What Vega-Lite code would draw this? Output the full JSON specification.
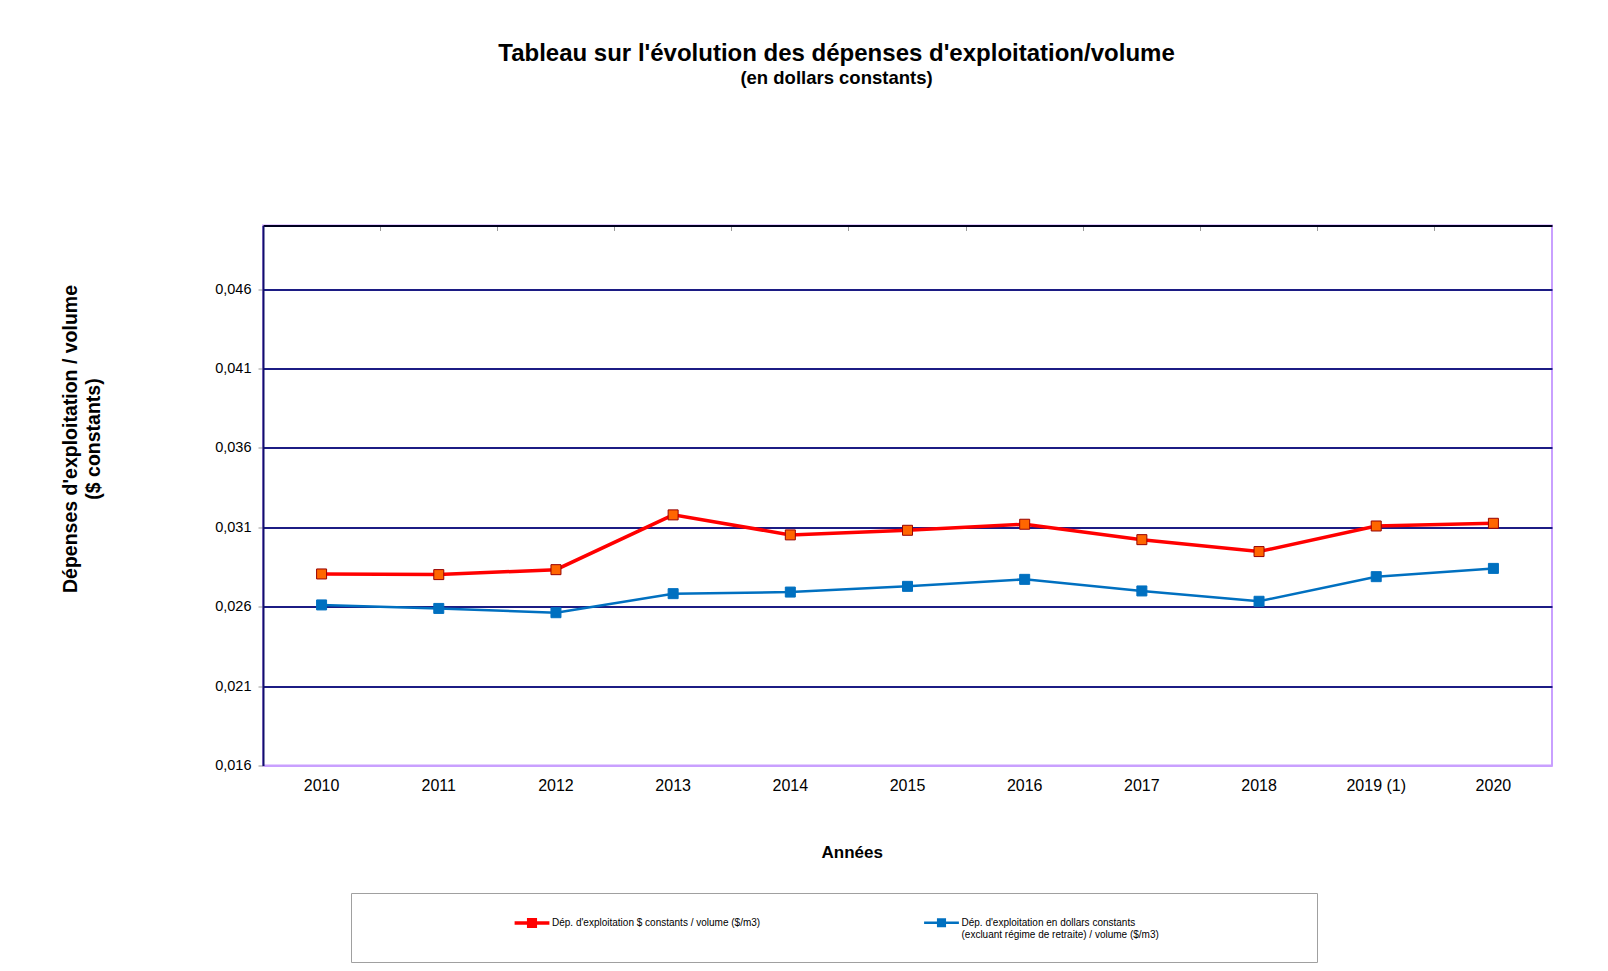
{
  "$schema": "https://vega.github.io/schema/vega-lite/v6.json",
  "autosize": {"type": "none"},
  "width": 1289,
  "height": 540,
  "padding": {"left": 263, "top": 225.5, "right": 56, "bottom": 205},
  "background": "white",
  "config": {
    "font": "Liberation Sans",
    "view": {"stroke": "#c9a0ff", "strokeWidth": 2}
  },
  "title": {
    "text": "Tableau sur l'évolution des dépenses d'exploitation/volume",
    "subtitle": "(en dollars constants)",
    "anchor": "middle",
    "frame": "group",
    "dx": -71,
    "offset": 138,
    "fontSize": 24,
    "fontWeight": "bold",
    "color": "#000000",
    "subtitleFontSize": 18.5,
    "subtitleFontWeight": "bold",
    "subtitleColor": "#000000",
    "subtitlePadding": 3
  },
  "data": {
    "values": [
      {"annee": "2010", "serie": "Dép. d'exploitation $ constants / volume ($/m3)", "valeur": 0.02806},
      {"annee": "2011", "serie": "Dép. d'exploitation $ constants / volume ($/m3)", "valeur": 0.02802},
      {"annee": "2012", "serie": "Dép. d'exploitation $ constants / volume ($/m3)", "valeur": 0.02833},
      {"annee": "2013", "serie": "Dép. d'exploitation $ constants / volume ($/m3)", "valeur": 0.03178},
      {"annee": "2014", "serie": "Dép. d'exploitation $ constants / volume ($/m3)", "valeur": 0.03052},
      {"annee": "2015", "serie": "Dép. d'exploitation $ constants / volume ($/m3)", "valeur": 0.03081},
      {"annee": "2016", "serie": "Dép. d'exploitation $ constants / volume ($/m3)", "valeur": 0.03119},
      {"annee": "2017", "serie": "Dép. d'exploitation $ constants / volume ($/m3)", "valeur": 0.03022},
      {"annee": "2018", "serie": "Dép. d'exploitation $ constants / volume ($/m3)", "valeur": 0.02947},
      {"annee": "2019 (1)", "serie": "Dép. d'exploitation $ constants / volume ($/m3)", "valeur": 0.03108},
      {"annee": "2020", "serie": "Dép. d'exploitation $ constants / volume ($/m3)", "valeur": 0.03125},
      {"annee": "2010", "serie": "Dép. d'exploitation en dollars constants (excluant régime de retraite) / volume ($/m3)", "valeur": 0.02611},
      {"annee": "2011", "serie": "Dép. d'exploitation en dollars constants (excluant régime de retraite) / volume ($/m3)", "valeur": 0.02589},
      {"annee": "2012", "serie": "Dép. d'exploitation en dollars constants (excluant régime de retraite) / volume ($/m3)", "valeur": 0.02562},
      {"annee": "2013", "serie": "Dép. d'exploitation en dollars constants (excluant régime de retraite) / volume ($/m3)", "valeur": 0.02682},
      {"annee": "2014", "serie": "Dép. d'exploitation en dollars constants (excluant régime de retraite) / volume ($/m3)", "valeur": 0.02692},
      {"annee": "2015", "serie": "Dép. d'exploitation en dollars constants (excluant régime de retraite) / volume ($/m3)", "valeur": 0.02728},
      {"annee": "2016", "serie": "Dép. d'exploitation en dollars constants (excluant régime de retraite) / volume ($/m3)", "valeur": 0.02772},
      {"annee": "2017", "serie": "Dép. d'exploitation en dollars constants (excluant régime de retraite) / volume ($/m3)", "valeur": 0.02699},
      {"annee": "2018", "serie": "Dép. d'exploitation en dollars constants (excluant régime de retraite) / volume ($/m3)", "valeur": 0.02634},
      {"annee": "2019 (1)", "serie": "Dép. d'exploitation en dollars constants (excluant régime de retraite) / volume ($/m3)", "valeur": 0.02789},
      {"annee": "2020", "serie": "Dép. d'exploitation en dollars constants (excluant régime de retraite) / volume ($/m3)", "valeur": 0.02841}
    ]
  },
  "layer": [
    {
      "mark": {"type": "line", "strokeJoin": "miter"},
      "encoding": {
        "x": {
          "field": "annee", "type": "ordinal", "sort": null,
          "scale": {"type": "band", "paddingInner": 0, "paddingOuter": 0},
          "axis": {
            "orient": "bottom",
            "title": "Années",
            "titleFontSize": 17, "titleFontWeight": "bold", "titleColor": "#000000",
            "titleAlign": "center", "titleBaseline": "alphabetic",
            "titleX": 588.7, "titleY": 92, "titleAnchor": null,
            "labelAngle": 0, "labelFontSize": 16, "labelColor": "#000000",
            "labelBaseline": "alphabetic", "labelPadding": 25,
            "ticks": false, "tickSize": 0,
            "domainColor": "#c9a0ff", "domainWidth": 2,
            "grid": false
          }
        },
        "y": {
          "field": "valeur", "type": "quantitative",
          "scale": {"domain": [0.016, 0.05], "nice": false, "zero": false},
          "axis": {
            "title": ["Dépenses d'exploitation / volume", "($ constants)"],
            "titleFontSize": 19.5, "titleFontWeight": "bold", "titleColor": "#000000",
            "titleAngle": -90, "titleAlign": "center", "titleBaseline": "alphabetic",
            "titleLineHeight": 23.5, "titleX": -187, "titleY": 213,
            "values": [0.016, 0.021, 0.026, 0.031, 0.036, 0.041, 0.046],
            "labelExpr": "replace(format(datum.value, '.3f'), '.', ',')",
            "labelFontSize": 14.5, "labelColor": "#000000", "labelPadding": 7,
            "tickSize": 5, "tickColor": "#999999",
            "domainColor": "#10106a", "domainWidth": 2,
            "grid": true, "gridWidth": 2,
            "gridColor": {"condition": {"test": "datum.value < 0.0165", "value": "transparent"}, "value": "#1c1c84"}
          }
        },
        "color": {
          "field": "serie", "type": "nominal",
          "scale": {
            "domain": ["Dép. d'exploitation $ constants / volume ($/m3)", "Dép. d'exploitation en dollars constants (excluant régime de retraite) / volume ($/m3)"],
            "range": ["#ff0000", "#0070c0"]
          },
          "legend": {
            "orient": "none", "legendX": 88, "legendY": 667.5,
            "direction": "horizontal", "columns": 2, "columnPadding": 157.5,
            "strokeColor": "#a0a0a0", "fillColor": "white", "padding": 22,
            "title": "\u200b\u00a0\u00a0\u00a0\u00a0\u00a0\u00a0\u00a0\u00a0\u00a0\u00a0\u00a0\u00a0\u00a0\u00a0\u00a0\u00a0\u00a0\u00a0\u00a0\u00a0\u00a0\u00a0\u00a0\u00a0\u00a0\u00a0\u00a0\u00a0\u00a0\u00a0\u00a0\u00a0\u00a0\u00a0\u00a0\u00a0\u00a0\u00a0\u00a0\u00a0\u00a0\u00a0\u00a0\u00a0\u00a0\u00a0\u00a0\u00a0\u200b",
            "titleOrient": "left", "titleFontSize": 11, "titleLineHeight": 11, "titlePadding": 4,
            "symbolType": "M-2.9,0H2.9M-0.55,-0.55H0.55V0.55H-0.55Z",
            "symbolSize": 144, "symbolStrokeWidth": 3,
            "labelFontSize": 10, "labelLineHeight": 11.5, "labelColor": "#000000", "labelLimit": 600, "labelOffset": 12,
            "labelExpr": "length(datum.label) > 60 ? [\"Dép. d'exploitation en dollars constants\", \"(excluant régime de retraite) / volume ($/m3)\u00a0\u00a0\u00a0\u00a0\u00a0\u00a0\u00a0\u00a0\u00a0\u00a0\u00a0\u00a0\u00a0\u00a0\u00a0\u00a0\u00a0\u00a0\u00a0\u00a0\u00a0\u00a0\u00a0\u00a0\u00a0\u00a0\u00a0\u00a0\u00a0\u00a0\u00a0\u00a0\u00a0\u00a0\u00a0\u00a0\u00a0\u00a0\u00a0\u00a0\u00a0\u00a0\u00a0\u00a0\u00a0\u00a0\u00a0\u00a0\u00a0\u200b\"] : [datum.label, \"\u200b\"]",
            "encode": {
              "symbols": {
                "update": {
                  "fill": {"signal": "length(datum.value) > 60 ? '#0070c0' : '#ff6600'"},
                  "fillOpacity": {"value": 1}
                }
              }
            }
          }
        },
        "strokeWidth": {
          "field": "serie", "type": "nominal",
          "scale": {
            "domain": ["Dép. d'exploitation $ constants / volume ($/m3)", "Dép. d'exploitation en dollars constants (excluant régime de retraite) / volume ($/m3)"],
            "range": [3.5, 2.5]
          },
          "legend": null
        }
      }
    },
    {
      "mark": {"type": "point", "shape": "square", "filled": true, "opacity": 1, "strokeWidth": 1},
      "encoding": {
        "x": {"field": "annee", "type": "ordinal", "sort": null, "axis": null},
        "y": {"field": "valeur", "type": "quantitative"},
        "fill": {
          "field": "serie", "type": "nominal",
          "scale": {
            "domain": ["Dép. d'exploitation $ constants / volume ($/m3)", "Dép. d'exploitation en dollars constants (excluant régime de retraite) / volume ($/m3)"],
            "range": ["#ff6600", "#0070c0"]
          },
          "legend": null
        },
        "stroke": {
          "field": "serie", "type": "nominal",
          "scale": {
            "domain": ["Dép. d'exploitation $ constants / volume ($/m3)", "Dép. d'exploitation en dollars constants (excluant régime de retraite) / volume ($/m3)"],
            "range": ["#990000", "#0070c0"]
          },
          "legend": null
        },
        "size": {"value": 100}
      }
    },
    {
      "mark": {"type": "rule", "opacity": 0},
      "encoding": {
        "x": {
          "field": "annee", "type": "ordinal", "sort": null,
          "axis": {
            "orient": "top", "title": null, "labels": false,
            "bandPosition": 0, "tickSize": -5, "tickColor": "#999999",
            "domainColor": "#000020", "domainWidth": 2, "grid": false
          }
        }
      }
    }
  ],
  "resolve": {"axis": {"x": "independent"}}
}
